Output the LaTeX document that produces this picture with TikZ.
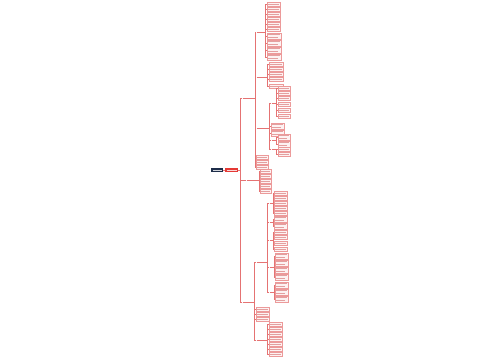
\documentclass[tikz,border=0pt]{standalone}
\definecolor{ln}{HTML}{E57373}
\definecolor{bx}{HTML}{FDF2F2}
\definecolor{bd}{HTML}{EC9A9A}
\definecolor{tx}{HTML}{E3A0A0}
\definecolor{dk}{HTML}{1E2D4A}
\definecolor{rd}{HTML}{E53935}
\tikzset{
 conn/.style={draw=ln, line width=0.4pt},
 lf/.style={anchor=west, draw=bd, fill=bx, line width=0.3pt, inner sep=0pt, minimum height=3.6pt,
   path picture={\draw[tx, line width=0.8pt] ([xshift=1pt]path picture bounding box.west) -- ([xshift=-1pt]path picture bounding box.east);}},
 lf2/.style={anchor=west, draw=bd, fill=bx, line width=0.3pt, inner sep=0pt, minimum height=6pt,
   path picture={\draw[tx, line width=0.7pt] ([xshift=1pt,yshift=1.3pt]path picture bounding box.west) -- ([xshift=-1pt,yshift=1.3pt]path picture bounding box.east);
                 \draw[tx, line width=0.7pt] ([xshift=1pt,yshift=-1.3pt]path picture bounding box.west) -- ([xshift=-3pt,yshift=-1.3pt]path picture bounding box.east);}},
 mid/.style={anchor=west, inner sep=0pt, minimum height=3pt,
   path picture={\draw[ln, line width=0.8pt] ([xshift=0.5pt]path picture bounding box.west) -- ([xshift=-0.5pt]path picture bounding box.east);}},
 rootd/.style={anchor=west, fill=dk, inner sep=0pt, minimum height=4.5pt,
   path picture={\draw[white!80!dk, line width=1pt] ([xshift=1.5pt]path picture bounding box.west) -- ([xshift=-1.5pt]path picture bounding box.east);}},
 rootr/.style={anchor=west, fill=rd, inner sep=0pt, minimum height=4.5pt,
   path picture={\draw[white!80!rd, line width=1pt] ([xshift=1.5pt]path picture bounding box.west) -- ([xshift=-1.5pt]path picture bounding box.east);}}
}
% #1 parent, #2 prefix, #3 west x, #4 width, #5 style, #6 y list
\newcommand\mykids[6]{%
  \foreach \yy [count=\k] in {#6} {
    \node[#5, minimum width=#4pt] (#2-\k) at (#3,\yy) {};
    \draw[conn] (#1.east) -- ++(2,0) |- (#2-\k.west);
  }}
\newcommand\mynode[5]{% name, style, x, y, w
  \node[#2, minimum width=#5pt] (#1) at (#3,#4) {};}
\begin{document}
\begin{tikzpicture}[x=1pt,y=-1pt]
\useasboundingbox[fill=white] (0,0) rectangle (500,360);
% root
\mynode{R}{rootd}{211}{170}{12}
\mynode{R2}{rootr}{225}{170}{13}
\draw[conn] (R.east) -- (R2.west);
% level 1
\mynode{A}{mid}{242}{98}{11}
\mynode{B}{mid}{246}{180}{11}
\mynode{C}{mid}{242}{302}{10}
\foreach \n in {A,B,C} \draw[conn] (R2.east) -- ++(2,0) |- (\n.west);
% A subtree
\mynode{A1}{mid}{256}{32}{7}
\mynode{A2}{mid}{256}{77}{9}
\mynode{A3}{mid}{256}{128}{11}
\foreach \n in {A1,A2,A3} \draw[conn] (A.east) -- ++(2,0) |- (\n.west);
\mykids{A}{Al}{256}{12}{lf}{157,162,167}
\mykids{A1}{A1a}{267}{13}{lf}{4,9,14,19,24,29}
\mykids{A1}{A1b}{267}{14}{lf2}{36,43,50,57}
\mykids{A2}{A2a}{269}{14}{lf}{64,69,74,79,86}
\mynode{A3a}{mid}{271}{103}{3}
\mynode{A3c}{mid}{271}{140}{3}
\mynode{A3d}{mid}{271}{149}{3}
\foreach \n in {A3a,A3c,A3d} \draw[conn] (A3.east) -- ++(2,0) |- (\n.west);
\mykids{A3}{A3b}{271}{13}{lf2}{126,133}
\mykids{A3a}{A3aa}{278}{12}{lf}{88,93,98,104,110,116}
\mykids{A3c}{A3ca}{278}{12}{lf2}{137,144}
\mykids{A3d}{A3da}{278}{12}{lf}{149,154}
% B subtree
\mykids{B}{Ba}{260}{11}{lf}{171,176,181,186,191}
% C subtree
\mynode{C2}{mid}{256}{262}{9}
\mynode{C4}{mid}{256}{340}{9}
\foreach \n in {C2,C4} \draw[conn] (C.east) -- ++(2,0) |- (\n.west);
\mykids{C}{C3}{256}{13}{lf}{309,314,319}
\mykids{C4}{C4a}{269}{13}{lf}{324,329,334,339,344,349,354}
\mynode{S1}{mid}{269}{203}{2}
\mynode{S2}{mid}{269}{222}{2}
\mynode{S3}{mid}{269}{240}{2}
\mynode{S4}{mid}{269}{267}{3}
\mynode{S5}{mid}{269}{292}{3}
\foreach \n in {S1,S2,S3,S4,S5} \draw[conn] (C2.east) -- ++(2,0) |- (\n.west);
\mykids{S1}{S1a}{274}{13}{lf}{193,198,203,208,213}
\mykids{S2}{S2a}{274}{13}{lf2}{219,226}
\mykids{S3}{S3a}{274}{13}{lf}{232,237,243,249}
\mykids{S4}{S4a}{275}{13}{lf2}{256,263,270,277}
\mykids{S5}{S5a}{275}{13}{lf2}{285,292,299}
\end{tikzpicture}
\end{document}
